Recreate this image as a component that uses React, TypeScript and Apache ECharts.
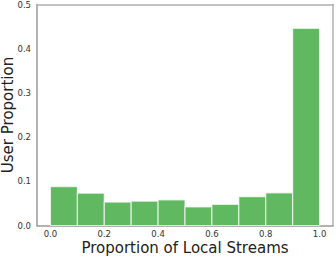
import React, { useEffect, useRef } from "react";
import * as echarts from "echarts";

const binStarts = [0.0, 0.1, 0.2, 0.3, 0.4, 0.5, 0.6, 0.7, 0.8, 0.9];
const binWidth = 0.1;
const userProportion = [0.088, 0.073, 0.053, 0.055, 0.058, 0.042, 0.048, 0.065, 0.074, 0.446];
const xTickLabels = ["0.0", "0.2", "0.4", "0.6", "0.8", "1.0"];

export default function App() {
  const ref = useRef<HTMLDivElement>(null);
  useEffect(() => {
    document.body.style.margin = "0";
    const chart = echarts.init(ref.current!, null, { renderer: "svg" });
    const data = binStarts.map((s, i) => [s, s + binWidth, userProportion[i]]);
    const frameAxis = {
      type: "value",
      min: -0.05,
      max: 1.05,
      splitLine: { show: false },
      axisTick: { show: false },
      axisLabel: { show: false },
      axisLine: { show: true, onZero: false, lineStyle: { color: "#b0b0b0", width: 1.5 } },
    };
    chart.setOption({
      animation: false,
      grid: {
        left: 37,
        right: 3,
        top: 4.5,
        bottom: 31.5,
        outerBoundsMode: "none",
        containLabel: false,
      },
      xAxis: [
        {
          type: "value",
          min: -0.05,
          max: 1.05,
          interval: 0.05,
          splitLine: { show: false },
          axisTick: { show: false },
          axisLine: { show: true, onZero: false, lineStyle: { color: "#999", width: 1.5 } },
          axisLabel: {
            color: "#333",
            fontSize: 8.5,
            lineHeight: 9,
            fontFamily: "DejaVu Sans",
            margin: 4,
            showMinLabel: true,
            showMaxLabel: true,
            formatter: (v: number) => {
              const k = Math.round(v * 5);
              if (Math.abs(v * 5 - k) < 1e-6 && k >= 0 && k < xTickLabels.length) return xTickLabels[k];
              return "";
            },
          },
          name: "Proportion of Local Streams",
          nameLocation: "middle",
          nameGap: 15,
          nameMoveOverlap: false,
          nameTextStyle: { fontSize: 15, lineHeight: 15, color: "#222", fontFamily: "DejaVu Sans" },
        },
        { ...frameAxis, position: "top" },
      ],
      yAxis: [
        {
          type: "value",
          min: 0,
          max: 0.5,
          interval: 0.1,
          splitLine: { show: false },
          axisTick: { show: false },
          axisLine: { show: true, onZero: false, lineStyle: { color: "#999", width: 1.5 } },
          axisLabel: {
            color: "#333",
            fontSize: 8.5,
            lineHeight: 8,
            fontFamily: "DejaVu Sans",
            margin: 6,
            formatter: (v: number) => v.toFixed(1),
          },
          name: "User Proportion",
          nameLocation: "middle",
          nameGap: 22,
          nameMoveOverlap: false,
          nameTextStyle: { fontSize: 15, lineHeight: 15, color: "#222", fontFamily: "DejaVu Sans" },
        },
        { ...frameAxis, min: 0, max: 0.5, position: "right" },
      ],
      series: [
        {
          type: "custom",
          data,
          encode: { x: [0, 1], y: 2 },
          renderItem: (params: any, api: any) => {
            const p0 = api.coord([api.value(0), api.value(2)]);
            const p1 = api.coord([api.value(1), 0]);
            return {
              type: "rect",
              shape: { x: p0[0], y: p0[1], width: p1[0] - p0[0], height: p1[1] - p0[1] },
              style: { fill: "#60b960", stroke: "rgba(255,255,255,0.7)", lineWidth: 1.2 },
            };
          },
        },
      ],
    });
    return () => chart.dispose();
  }, []);
  return <div ref={ref} style={{ width: 336, height: 257 }} />;
}
